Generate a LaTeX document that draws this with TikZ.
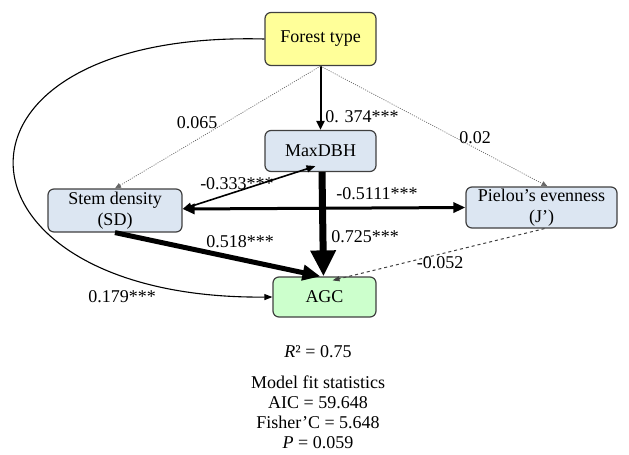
\documentclass[tikz,border=0pt]{standalone}
\usepackage{fontspec}
\setmainfont{Liberation Serif}
\usetikzlibrary{arrows.meta}

\definecolor{ftyellow}{HTML}{FFFF99}
\definecolor{varblue}{HTML}{DCE6F2}
\definecolor{agcgreen}{HTML}{CCFFCC}

\begin{document}
\begin{tikzpicture}[x=1pt, y=-1pt,
  box/.style={draw=black!75, line width=1.2pt, rounded corners=6pt, inner sep=0pt, align=center, font=\fontsize{18}{21}\selectfont},
  lbl/.style={inner sep=0pt, font=\fontsize{18}{20}\selectfont},
  dotarrow/.style={draw=black!60, line width=0.7pt, dash pattern=on 1pt off 1.3pt, -{Triangle[length=6pt,width=5pt]}}]

\useasboundingbox (0,0) rectangle (629,455);

% boxes
\node[box, fill=ftyellow, minimum width=111pt, minimum height=53pt] (ft) at (320.5,39) {Forest type};
\node[box, fill=varblue, minimum width=111pt, minimum height=41pt] (md) at (320.5,151) {MaxDBH};
\node[box, fill=varblue, minimum width=134pt, minimum height=43pt] (sd) at (115,210.5) {Stem density\\(SD)};
\node[box, fill=varblue, minimum width=151pt, minimum height=41pt] (pe) at (541.5,207.5) {Pielou’s evenness\\(J’)};
\node[box, fill=agcgreen, minimum width=103pt, minimum height=40pt] (agc) at (324.5,297) {AGC};

% paths
\draw[line width=2pt, -{Triangle[length=9pt,width=8pt]}] (ft.south) -- (md.north);
\draw[dotarrow] (ft.south) -- (sd.north);
\draw[dotarrow] (ft.south) -- ([xshift=6pt]pe.north);
\draw[line width=1.1pt, -{Triangle[length=8pt,width=6pt]}] (ft.west) .. controls +(-345,-9) and +(-333,3) .. (agc.west);
\draw[line width=1.6pt, {Triangle[length=9pt,width=7pt]}-{Triangle[length=9pt,width=7pt]}] ([yshift=1.5pt]sd.east) -- ([xshift=-5pt,yshift=6pt]md.south);
\draw[line width=3pt, {Triangle[length=12pt,width=10pt]}-{Triangle[length=12pt,width=10pt]}] ([yshift=1.5pt]sd.east) -- (pe.west);
\draw[line width=7pt, -{Triangle[length=26pt,width=24pt]}] ([xshift=1.5pt]md.south) -- ([xshift=-1pt]agc.north);
\draw[line width=5pt, -{Triangle[length=18pt,width=15pt]}] (sd.south) -- ([xshift=-4pt]agc.north);
\draw[draw=black!75, line width=1pt, dashed, -{Triangle[length=7pt,width=5pt]}] ([xshift=3pt]pe.south) -- ([xshift=8pt,yshift=-4pt]agc.north);

% coefficients
\node[lbl] (c-ft-md) at (362,117) {0. 374***};
\node[lbl] (c-ft-sd) at (197,123) {0.065};
\node[lbl] (c-ft-pe) at (475,138) {0.02};
\node[lbl] (c-sd-md) at (237,184) {-0.333***};
\node[lbl] (c-sd-pe) at (377,194) {-0.5111***};
\node[lbl] (c-md-agc) at (365,237) {0.725***};
\node[lbl] (c-sd-agc) at (240,242) {0.518***};
\node[lbl] (c-ft-agc) at (122,297) {0.179***};
\node[lbl] (c-pe-agc) at (440,263) {-0.052};

% model statistics
\node[lbl] (rsq) at (318,352) {\textit{R}² = 0.75};
\node[lbl, align=center] (fit) at (318,412) {Model fit statistics\\AIC = 59.648\\Fisher’C = 5.648\\\textit{P} = 0.059};

\end{tikzpicture}
\end{document}
